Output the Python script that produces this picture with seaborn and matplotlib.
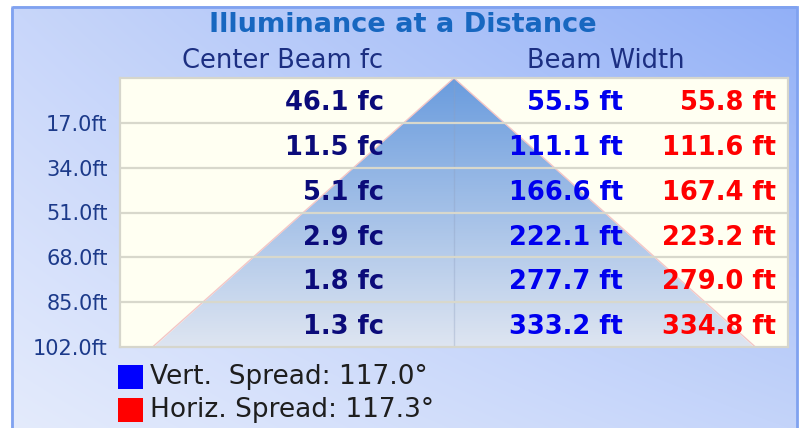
import numpy as np
import matplotlib
matplotlib.use('Agg')
import matplotlib.pyplot as plt
import seaborn as sns
import pandas as pd
from matplotlib.patches import Polygon, Rectangle
import matplotlib.transforms as mtrans

# ---------------- data ----------------
distances = [17.0, 34.0, 51.0, 68.0, 85.0, 102.0]
center_fc = [46.1, 11.5, 5.1, 2.9, 1.8, 1.3]
vert_width = [55.5, 111.1, 166.6, 222.1, 277.7, 333.2]
horiz_width = [55.8, 111.6, 167.4, 223.2, 279.0, 334.8]
vert_spread = 117.0
horiz_spread = 117.3
title = "Illuminance at a Distance"
col_headers = ["Center Beam fc", "Beam Width"]

sns.set_theme(style="white")
plt.rcParams['font.family'] = ['DejaVu Sans']

W, H = 799, 428
fig = plt.figure(figsize=(W / 100, H / 100), dpi=100)
fig.patch.set_facecolor('white')

# ---------------- panel background ----------------
bg = fig.add_axes([0, 0, 1, 1], zorder=0)
bg.set_xlim(0, W)
bg.set_ylim(H, 0)
bg.axis('off')
tl = np.array([200, 214, 250]); tr = np.array([146, 176, 247])
bl = np.array([228, 235, 252]); br = np.array([196, 212, 250])
u = np.linspace(0, 1, 200)[None, :, None]
v = np.linspace(0, 1, 120)[:, None, None]
grad = (tl * (1 - u) * (1 - v) + tr * u * (1 - v) + bl * (1 - u) * v + br * u * v) / 255
bg.imshow(grad, extent=[11, 797, 432, 6], aspect='auto', interpolation='bilinear')
bg.add_patch(Rectangle((11.5, 6.5), 785, 430, fill=False,
                       ec=np.array([128, 162, 240]) / 255, lw=2))
bg.set_xlim(0, W)
bg.set_ylim(H, 0)

# ---------------- main axes ----------------
ax = fig.add_axes([120 / W, (H - 347) / H, 668 / W, (347 - 78) / H], zorder=1)
ax.set_facecolor('#fffff2')
xhalf = 185.5
ymax = distances[-1]

# vertical beam triangle with gradient
vh = vert_width[-1] / 2
tri = Polygon([(-vh, ymax), (0, 0), (vh, ymax)], closed=True,
              facecolor='none', edgecolor='none', transform=ax.transData)
ax.add_patch(tri)
top_c = np.array([106, 156, 222]) / 255
bot_c = np.array([222, 229, 241]) / 255
t = np.linspace(0, 1, 256)[:, None, None]
tgrad = top_c * (1 - t) + bot_c * t
im = ax.imshow(tgrad, extent=[-vh, vh, ymax, 0], aspect='auto',
               interpolation='bilinear', zorder=1)
im.set_clip_path(tri)

# horizontal beam edge (faint red)
hx = [-w / 2 for w in horiz_width[::-1]] + [0.0] + [w / 2 for w in horiz_width]
hy = distances[::-1] + [0.0] + distances
edge_df = pd.DataFrame({'x': hx, 'y': hy})
sns.lineplot(data=edge_df, x='x', y='y', sort=False, estimator=None,
             color='#f3c6c6', lw=1.0, ax=ax, zorder=2)

# center divider
ax.axvline(0, color='#8f9fbf', alpha=0.35, lw=1, zorder=2)
# row lines
for d in distances[:-1]:
    ax.axhline(d, color='#d8d8cc', lw=1.6, zorder=3)

ax.set_xlim(-xhalf, xhalf)
ax.set_ylim(ymax, 0)
ax.set_xlabel('')
ax.set_ylabel('')
ax.set_xticks([])
ax.set_yticks(distances)
ax.set_yticklabels([f"{d:.1f}ft" for d in distances])
ax.tick_params(axis='y', length=0, pad=9, labelsize=15, labelcolor='#1c3a8a')
for s in ax.spines.values():
    s.set_color('#d6d6cc')
    s.set_linewidth(1.6)
    s.set_zorder(4)

# values
trans = mtrans.blended_transform_factory(ax.transAxes, ax.transData)
step = distances[1] - distances[0]
for i, d in enumerate(distances):
    yc = d - step / 2 + 1.0
    ax.text(0.395, yc, f"{center_fc[i]:.1f} fc", ha='right', va='center',
            fontsize=18.5, fontweight='bold', color='#0b0b7a', transform=trans, zorder=5)
    ax.text(0.753, yc, f"{vert_width[i]:.1f} ft", ha='right', va='center',
            fontsize=18.5, fontweight='bold', color='#0000ee', transform=trans, zorder=5)
    ax.text(0.982, yc, f"{horiz_width[i]:.1f} ft", ha='right', va='center',
            fontsize=18.5, fontweight='bold', color='#ff0000', transform=trans, zorder=5)

# ---------------- titles ----------------
fig.text(403 / W, 1 - 25 / H, title, ha='center', va='center', fontsize=19.5,
         fontweight='bold', color='#1767c0', zorder=5)
fig.text(283 / W, 1 - 61 / H, col_headers[0], ha='center', va='center',
         fontsize=18.5, color='#1c2f82', zorder=5)
fig.text(606 / W, 1 - 61 / H, col_headers[1], ha='center', va='center',
         fontsize=18.5, color='#1c2f82', zorder=5)

# ---------------- legend ----------------
legend_items = [(f"Vert.  Spread: {vert_spread:.1f}°", '#0000ff', 377),
                (f"Horiz. Spread: {horiz_spread:.1f}°", '#ff0000', 410)]
for label, col, yc in legend_items:
    fig.patches.append(Rectangle((118 / W, 1 - (yc + 12) / H), 25 / W, 24 / H,
                                 transform=fig.transFigure, facecolor=col,
                                 edgecolor='none', zorder=5))
    fig.text(150 / W, 1 - yc / H, label, ha='left', va='center', fontsize=19,
             color='#1e1e1e', zorder=5)

fig.savefig('out.png', dpi=100)
